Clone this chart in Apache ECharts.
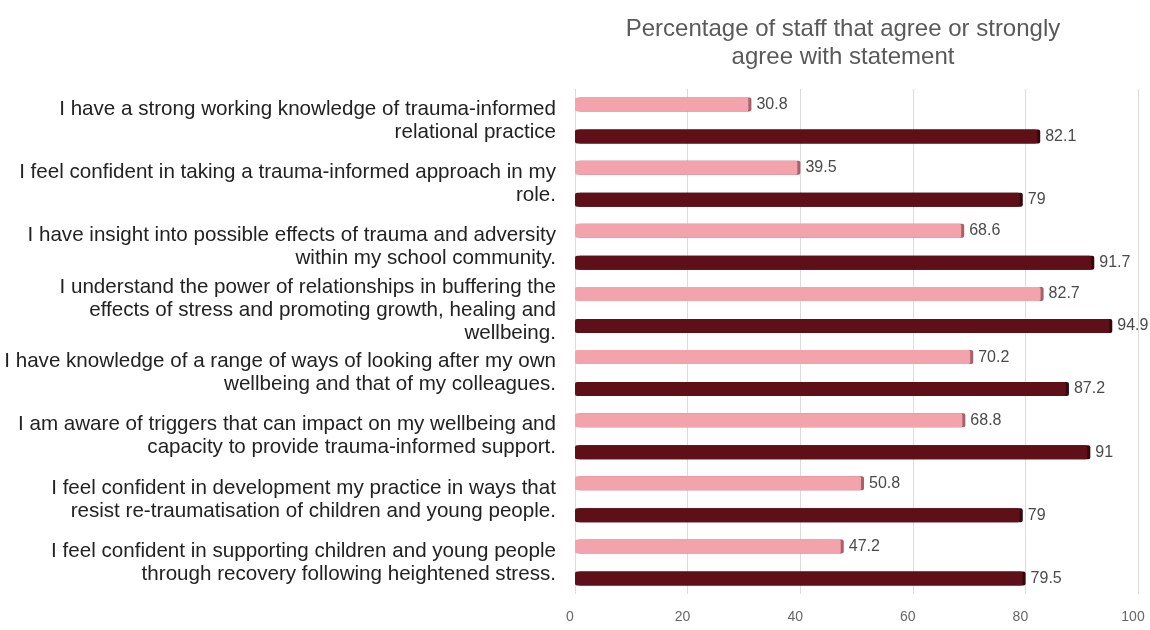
<!DOCTYPE html>
<html>
<head>
<meta charset="utf-8">
<script src="https://cdn.jsdelivr.net/npm/echarts@6/dist/echarts.min.js"></script>
<style>
  html, body { margin: 0; padding: 0; background: #ffffff; }
  #chart { width: 1150px; height: 630px; }
</style>
</head>
<body>
<div id="chart"></div>
<script>
// Survey statements (line breaks as they wrap on the axis)
const categories = [
  "I have a strong working knowledge of trauma-informed\nrelational practice",
  "I feel confident in taking a trauma-informed approach in my\nrole.",
  "I have insight into possible effects of trauma and adversity\nwithin my school community.",
  "I understand the power of relationships in buffering the\neffects of stress and promoting growth, healing and\nwellbeing.",
  "I have knowledge of a range of ways of looking after my own\nwellbeing and that of my colleagues.",
  "I am aware of triggers that can impact on my wellbeing and\ncapacity to provide trauma-informed support.",
  "I feel confident in development my practice in ways that\nresist re-traumatisation of children and young people.",
  "I feel confident in supporting children and young people\nthrough recovery following heightened stress."
];

// Percentage agreeing, first survey (light bars)
const valuesLight = [30.8, 39.5, 68.6, 82.7, 70.2, 68.8, 50.8, 47.2];
// Percentage agreeing, second survey (dark bars)
const valuesDark = [82.1, 79, 91.7, 94.9, 87.2, 91, 79, 79.5];

const xTicks = { min: 0, max: 100, interval: 20 };

const FONT = 'Liberation Sans, Arial, sans-serif';

const chart = echarts.init(document.getElementById('chart'));

const labelStyle = {
  show: true,
  position: 'right',
  distance: 8,
  color: '#4a4a4a',
  fontSize: 16,
  fontFamily: FONT
};

chart.setOption({
  animation: false,
  backgroundColor: '#ffffff',
  title: {
    text: 'Percentage of staff that agree or strongly\nagree with statement',
    left: 838,
    top: 10,
    textAlign: 'center',
    textStyle: {
      color: '#595959',
      fontSize: 24,
      fontWeight: 'normal',
      lineHeight: 28,
      fontFamily: FONT
    }
  },
  grid: {
    left: 575,
    right: 12,
    top: 89,
    bottom: 36,
    containLabel: false
  },
  xAxis: {
    type: 'value',
    min: xTicks.min,
    max: xTicks.max,
    interval: xTicks.interval,
    axisLine: { show: false },
    axisTick: { show: false },
    splitLine: { show: true, lineStyle: { color: '#dcdcdc', width: 1 } },
    axisLabel: {
      color: '#666666',
      fontSize: 14,
      margin: 16,
      padding: [0, 10, 0, 0],
      fontFamily: FONT
    }
  },
  yAxis: {
    type: 'category',
    data: categories,
    inverse: true,
    axisLine: { show: false },
    axisTick: { show: false },
    splitLine: { show: false },
    axisLabel: {
      color: '#222222',
      fontSize: 20.6,
      lineHeight: 23,
      margin: 19,
      align: 'right',
      padding: [0, 0, 8, 0],
      fontFamily: FONT
    }
  },
  series: [
    {
      name: 'Light',
      type: 'bar',
      data: valuesLight,
      barWidth: 14,
      barGap: '128%',
      itemStyle: {
        color: '#f2a3ab',
        borderRadius: 2,
        shadowColor: '#a8606a',
        shadowOffsetX: 3,
        shadowOffsetY: 0,
        shadowBlur: 0
      },
      label: labelStyle
    },
    {
      name: 'Dark',
      type: 'bar',
      data: valuesDark,
      barWidth: 14,
      itemStyle: {
        color: '#5e0f18',
        borderRadius: 2,
        shadowColor: '#34070c',
        shadowOffsetX: 3,
        shadowOffsetY: 0,
        shadowBlur: 0
      },
      label: labelStyle
    }
  ]
});
</script>
</body>
</html>
